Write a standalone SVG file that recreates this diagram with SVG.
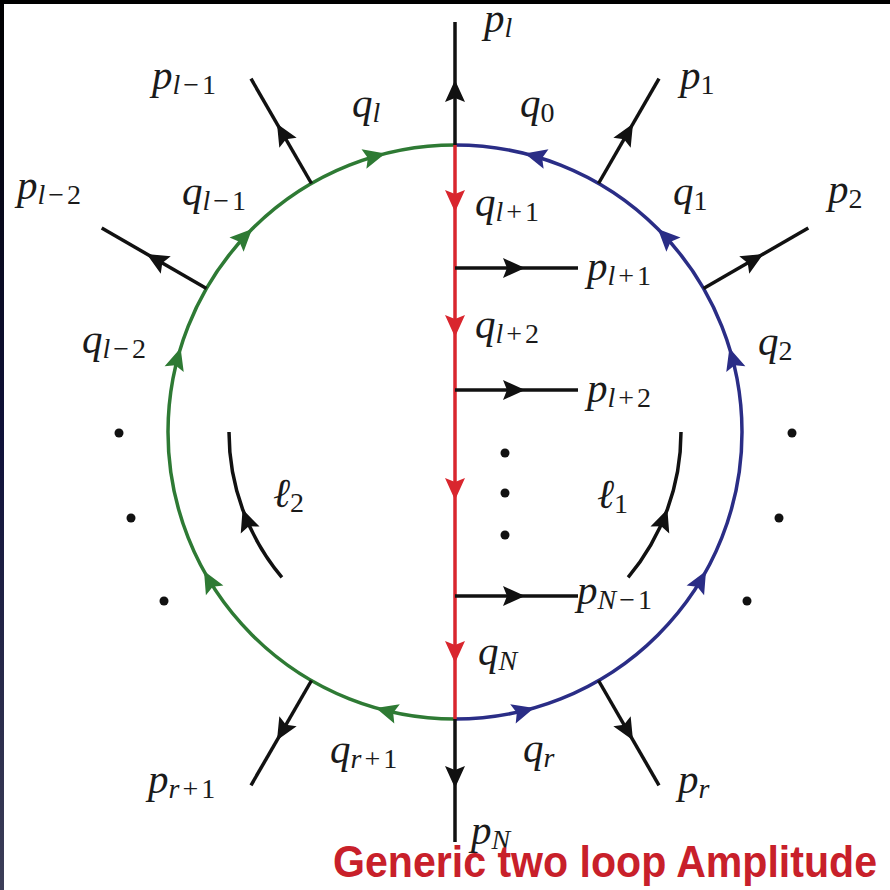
<svg xmlns="http://www.w3.org/2000/svg" xmlns:xlink="http://www.w3.org/1999/xlink" width="890" height="890" viewBox="0 0 890 890">
<defs>
<linearGradient id="edge" x1="0" y1="0" x2="0" y2="1">
<stop offset="0" stop-color="#000000"/>
<stop offset="0.5" stop-color="#10123a"/>
<stop offset="1" stop-color="#3c3e58"/>
</linearGradient>
<path id="ah" d="M0,0 L-22,-10 L-18,0 L-22,10 Z"/>
<style>
.blk{stroke:#111;stroke-width:3.5;fill:none;stroke-linecap:butt}
.grn{stroke:#2e7a34;stroke-width:3.5;fill:none}
.blu{stroke:#2a2d86;stroke-width:3.5;fill:none}
.red{stroke:#d9262e;stroke-width:3.5;fill:none}
.m{font-family:"Liberation Serif","DejaVu Serif",serif;font-style:italic;font-size:41px;fill:#1a1a1a}
.s{font-size:28px;letter-spacing:3px}
.u{font-style:normal}
.title{font-family:"Liberation Sans",Arial,sans-serif;font-weight:bold;font-size:44px;fill:#c8202a}
</style>
</defs>
<rect x="0" y="0" width="890" height="890" fill="#ffffff"/>
<rect x="0" y="0" width="890" height="4" fill="#000"/>
<rect x="0" y="0" width="4" height="890" fill="url(#edge)"/>

<g id="connectors">
<g id="loop-green">
<path class="grn" d="M455,719 A287,287 0 0 1 455,145"/>
<g fill="#2e7a34">
<use xlink:href="#ah" transform="translate(385.3,153.6) rotate(346)"/>
<use xlink:href="#ah" transform="translate(252.1,229.1) rotate(315)"/>
<use xlink:href="#ah" transform="translate(180.6,348.1) rotate(287)"/>
<use xlink:href="#ah" transform="translate(204.0,571.1) rotate(241)"/>
<use xlink:href="#ah" transform="translate(375.9,707.9) rotate(196)"/>
</g>
</g>
<g id="loop-blue">
<path class="blu" d="M455,719 A287,287 0 0 0 455,145"/>
<g fill="#2a2d86">
<use xlink:href="#ah" transform="translate(524.7,153.6) rotate(194)"/>
<use xlink:href="#ah" transform="translate(657.9,229.1) rotate(225)"/>
<use xlink:href="#ah" transform="translate(729.4,348.1) rotate(253)"/>
<use xlink:href="#ah" transform="translate(706.0,571.1) rotate(299)"/>
<use xlink:href="#ah" transform="translate(534.1,707.9) rotate(344)"/>
</g>
</g>
<g id="propagator-red">
<line class="red" x1="455" y1="145" x2="455" y2="719"/>
<g fill="#d9262e">
<use xlink:href="#ah" transform="translate(455,212) rotate(90)"/>
<use xlink:href="#ah" transform="translate(455,337) rotate(90)"/>
<use xlink:href="#ah" transform="translate(455,500) rotate(90)"/>
<use xlink:href="#ah" transform="translate(455,663) rotate(90)"/>
</g>
</g>
<g id="legs" fill="#111">
<line class="blk" x1="455" y1="145" x2="455" y2="22"/>
<use xlink:href="#ah" transform="translate(455,80) rotate(-90)"/>
<line class="blk" x1="455" y1="719" x2="455" y2="842"/>
<use xlink:href="#ah" transform="translate(455,788) rotate(90)"/>
<line class="blk" x1="311.5" y1="183.5" x2="251" y2="78.7"/>
<use xlink:href="#ah" transform="translate(277,123.7) rotate(240)"/>
<line class="blk" x1="206.5" y1="288.5" x2="101.7" y2="228"/>
<use xlink:href="#ah" transform="translate(146.7,254) rotate(210)"/>
<line class="blk" x1="598.5" y1="183.5" x2="659" y2="78.7"/>
<use xlink:href="#ah" transform="translate(633,123.7) rotate(300)"/>
<line class="blk" x1="703.5" y1="288.5" x2="808.3" y2="228"/>
<use xlink:href="#ah" transform="translate(763.3,254) rotate(330)"/>
<line class="blk" x1="311.5" y1="680.5" x2="251" y2="785.3"/>
<use xlink:href="#ah" transform="translate(277,740.3) rotate(120)"/>
<line class="blk" x1="598.5" y1="680.5" x2="659" y2="785.3"/>
<use xlink:href="#ah" transform="translate(633,740.3) rotate(60)"/>
<line class="blk" x1="455" y1="268" x2="578" y2="268"/>
<use xlink:href="#ah" transform="translate(525,268)"/>
<line class="blk" x1="455" y1="390" x2="578" y2="390"/>
<use xlink:href="#ah" transform="translate(525,390)"/>
<line class="blk" x1="455" y1="596" x2="578" y2="596"/>
<use xlink:href="#ah" transform="translate(525,596)"/>
</g>
<g id="loop-momenta" fill="#111">
<path class="blk" d="M229,432 A226,226 0 0 0 281.9,577.3"/>
<use xlink:href="#ah" transform="translate(242.6,509.3) rotate(250)"/>
<path class="blk" d="M681,432 A226,226 0 0 1 628.1,577.3"/>
<use xlink:href="#ah" transform="translate(667.4,509.3) rotate(-70)"/>
</g>
</g>

<g id="dots" fill="#111">
<circle cx="119" cy="433" r="4.5"/>
<circle cx="131" cy="518" r="4.5"/>
<circle cx="164" cy="601" r="4.5"/>
<circle cx="792" cy="433" r="4.5"/>
<circle cx="779" cy="518" r="4.5"/>
<circle cx="747" cy="601" r="4.5"/>
<circle cx="505" cy="453" r="4.5"/>
<circle cx="505" cy="493" r="4.5"/>
<circle cx="505" cy="535" r="4.5"/>
</g>

<g id="labels">
<g id="n-pl"><text class="m" x="484" y="32">p<tspan class="s" dy="5">l</tspan></text></g>
<g id="n-ql"><text class="m" x="352" y="117">q<tspan class="s" dy="5">l</tspan></text></g>
<g id="n-q0"><text class="m" x="520" y="117">q<tspan class="s u" dy="5">0</tspan></text></g>
<g id="n-plm1"><text class="m" x="152" y="89">p<tspan class="s" dy="5">l<tspan class="u">−1</tspan></tspan></text></g>
<g id="n-p1"><text class="m" x="680" y="89">p<tspan class="s u" dy="5">1</tspan></text></g>
<g id="n-plm2"><text class="m" x="17" y="199">p<tspan class="s" dy="5">l<tspan class="u">−2</tspan></tspan></text></g>
<g id="n-qlm1"><text class="m" x="182" y="205">q<tspan class="s" dy="5">l<tspan class="u">−1</tspan></tspan></text></g>
<g id="n-q1"><text class="m" x="673" y="205">q<tspan class="s u" dy="5">1</tspan></text></g>
<g id="n-p2"><text class="m" x="828" y="203">p<tspan class="s u" dy="5">2</tspan></text></g>
<g id="n-qlp1"><text class="m" x="475" y="216">q<tspan class="s" dy="5">l<tspan class="u">+1</tspan></tspan></text></g>
<g id="n-plp1"><text class="m" x="587" y="280">p<tspan class="s" dy="5">l<tspan class="u">+1</tspan></tspan></text></g>
<g id="n-qlp2"><text class="m" x="475" y="338">q<tspan class="s" dy="5">l<tspan class="u">+2</tspan></tspan></text></g>
<g id="n-qlm2"><text class="m" x="82" y="353">q<tspan class="s" dy="5">l<tspan class="u">−2</tspan></tspan></text></g>
<g id="n-q2"><text class="m" x="758" y="355">q<tspan class="s u" dy="5">2</tspan></text></g>
<g id="n-plp2"><text class="m" x="587" y="402">p<tspan class="s" dy="5">l<tspan class="u">+2</tspan></tspan></text></g>
<g id="n-l2"><text class="m" x="273" y="507">ℓ<tspan class="s u" dy="5">2</tspan></text></g>
<g id="n-l1"><text class="m" x="597" y="508">ℓ<tspan class="s u" dy="5">1</tspan></text></g>
<g id="n-pNm1"><text class="m" x="577" y="604">p<tspan class="s" dy="5">N<tspan class="u">−1</tspan></tspan></text></g>
<g id="n-qN"><text class="m" x="478" y="665">q<tspan class="s" dy="5">N</tspan></text></g>
<g id="n-qrp1"><text class="m" x="330" y="763">q<tspan class="s" dy="5">r<tspan class="u">+1</tspan></tspan></text></g>
<g id="n-qr"><text class="m" x="523" y="762">q<tspan class="s" dy="5">r</tspan></text></g>
<g id="n-prp1"><text class="m" x="148" y="793">p<tspan class="s" dy="5">r<tspan class="u">+1</tspan></tspan></text></g>
<g id="n-pr"><text class="m" x="678" y="793">p<tspan class="s" dy="5">r</tspan></text></g>
<g id="n-pN"><text class="m" x="471" y="844">p<tspan class="s" dy="5">N</tspan></text></g>
</g>

<text class="title" x="333" y="877" textLength="544" lengthAdjust="spacingAndGlyphs">Generic two loop Amplitude</text>
</svg>
